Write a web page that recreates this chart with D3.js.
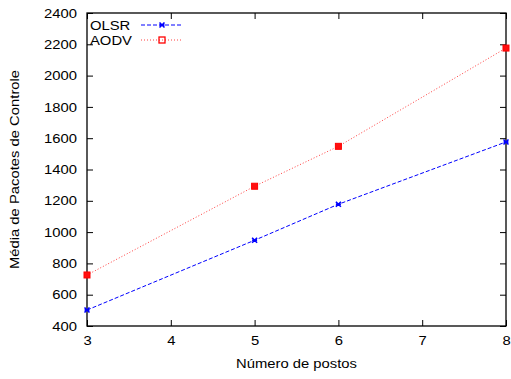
<!DOCTYPE html>
<html>
<head>
<meta charset="utf-8">
<script src="https://cdn.jsdelivr.net/npm/d3@7"></script>
<style>
  body { margin: 0; background: #fff; }
  text { font-family: "Liberation Sans", Arial, sans-serif; font-size: 13px; fill: #000; }
</style>
</head>
<body>
<div id="chart"></div>
<script>
// Chart data
const postos = [3, 5, 6, 8];
const olsr = [502, 948, 1178, 1576];
const aodv = [726, 1293, 1548, 2176];
const xTicks = [3, 4, 5, 6, 7, 8];
const yTicks = [400, 600, 800, 1000, 1200, 1400, 1600, 1800, 2000, 2200, 2400];
const seriesNames = ['OLSR', 'AODV'];

const totalWidth = 511, totalHeight = 379;
const margins = {top: 13, bottom: 53, left: 87, right: 5};
const width = totalWidth - margins.left - margins.right;
const height = totalHeight - margins.top - margins.bottom;
const textStretch = 1.14;

const svg = d3.select('#chart').append('svg')
  .attr('width', totalWidth)
  .attr('height', totalHeight);

const x = d3.scaleLinear().domain([3, 8]).range([0, width]);
const y = d3.scaleLinear().domain([400, 2400]).range([height, 0]);

const plot = svg.append('g')
  .attr('transform', 'translate(' + [margins.left, margins.top] + ')');

// ticks on all four sides, pointing inward
const tickLen = 6;
plot.append('g')
  .attr('transform', 'translate(' + [0, height] + ')')
  .call(d3.axisBottom(x).tickValues(xTicks).tickFormat(d3.format('d')).tickSizeInner(-tickLen).tickSizeOuter(0).tickPadding(10))
  .call(g => g.select('.domain').remove());
plot.append('g')
  .call(d3.axisTop(x).tickValues(xTicks).tickFormat('').tickSizeInner(-tickLen).tickSizeOuter(0))
  .call(g => g.select('.domain').remove());
plot.append('g')
  .call(d3.axisLeft(y).tickValues(yTicks).tickFormat(d3.format('d')).tickSizeInner(-tickLen).tickSizeOuter(0).tickPadding(10))
  .call(g => g.select('.domain').remove());
plot.append('g')
  .attr('transform', 'translate(' + [width, 0] + ')')
  .call(d3.axisRight(y).tickValues(yTicks).tickFormat('').tickSizeInner(-tickLen).tickSizeOuter(0))
  .call(g => g.select('.domain').remove());

plot.selectAll('.tick text')
  .style('font-size', '13px')
  .style('font-family', 'Liberation Sans, Arial, sans-serif');

plot.append('rect')
  .attr('width', width)
  .attr('height', height)
  .style('fill', 'none')
  .style('stroke', '#000')
  .style('stroke-width', 1.3);

const line = d3.line().x(d => x(d[0])).y(d => y(d[1]));

// OLSR: blue dashed with x marks
plot.append('path')
  .datum(postos.map((p, i) => [p, olsr[i]]))
  .attr('d', line)
  .style('fill', 'none')
  .style('stroke', '#0000ff')
  .style('stroke-width', 1)
  .style('stroke-dasharray', '4,2');

const cross = (g, cx, cy, s) => {
  g.append('path')
    .attr('d', 'M' + (cx - s) + ',' + (cy - s) + 'L' + (cx + s) + ',' + (cy + s) + 'M' + (cx - s) + ',' + (cy + s) + 'L' + (cx + s) + ',' + (cy - s)
      + 'M' + (cx - s) + ',' + cy + 'L' + (cx + s) + ',' + cy)
    .style('stroke', '#0000ff')
    .style('stroke-width', 1.6);
};
postos.forEach((p, i) => cross(plot, x(p), y(olsr[i]), 2.5));

// AODV: red dotted with squares
plot.append('path')
  .datum(postos.map((p, i) => [p, aodv[i]]))
  .attr('d', line)
  .style('fill', 'none')
  .style('stroke', '#ff4040')
  .style('stroke-width', 1)
  .style('stroke-dasharray', '1,2');

postos.forEach((p, i) => {
  plot.append('rect')
    .attr('x', x(p) - 3).attr('y', y(aodv[i]) - 3)
    .attr('width', 6).attr('height', 6)
    .style('fill', '#ff1010')
    .style('stroke', '#ff0000')
    .style('stroke-width', 1);
});

// legend
const legend = plot.append('g').attr('class', 'legend');
seriesNames.forEach((name, i) => {
  const ly = 12 + i * 15;
  legend.append('text')
    .attr('x', 3).attr('y', ly).attr('dy', '0.35em')
    .text(name);
  legend.append('line')
    .attr('x1', 54).attr('x2', 96)
    .attr('y1', ly).attr('y2', ly)
    .style('stroke', i === 0 ? '#0000ff' : '#ff4040')
    .style('stroke-width', 1)
    .style('stroke-dasharray', i === 0 ? '4,2' : '1,2');
  if (i === 0) cross(legend, 75, ly, 2.5);
  else {
    legend.append('rect')
      .attr('x', 72).attr('y', ly - 3).attr('width', 6).attr('height', 6)
      .style('fill', 'none').style('stroke', '#ff0000').style('stroke-width', 1.3);
  }
});

// axis titles
svg.append('text')
  .attr('x', margins.left + width / 2)
  .attr('y', 368)
  .attr('text-anchor', 'middle')
  .text('Número de postos');
svg.append('text')
  .attr('transform', 'translate(' + [19, margins.top + height / 2] + ') rotate(-90)')
  .attr('text-anchor', 'middle')
  .text('Média de Pacotes de Controle');

// the reference glyphs are a bit wider than they are tall: stretch every label horizontally
svg.selectAll('text').each(function() {
  const t = d3.select(this);
  const tx = +t.attr('x') || 0, ty = +t.attr('y') || 0;
  const prev = t.attr('transform') || '';
  t.attr('x', 0).attr('y', 0)
    .attr('transform', prev + ' translate(' + [tx, ty] + ') scale(' + textStretch + ',1)');
});
</script>
</body>
</html>
